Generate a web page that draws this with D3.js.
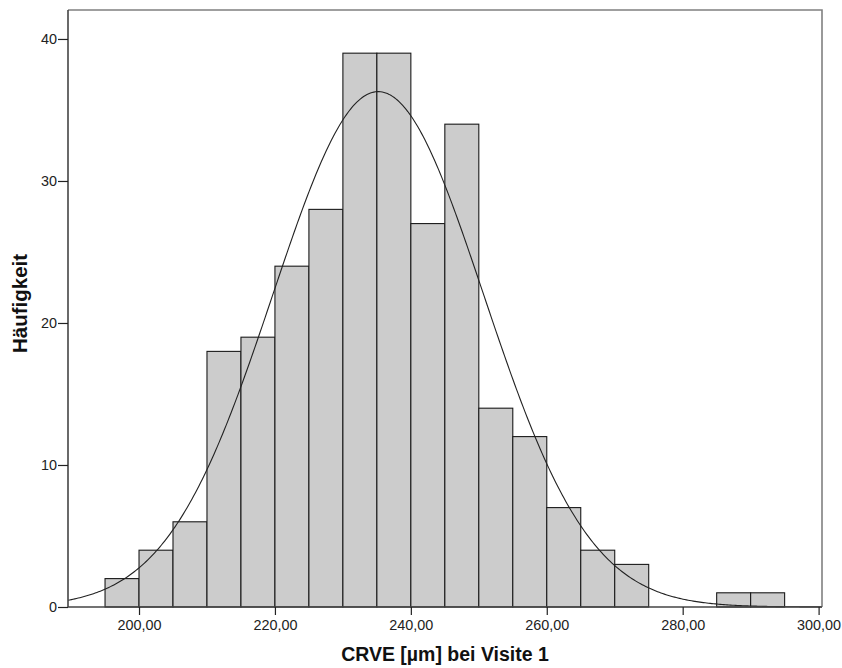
<!DOCTYPE html>
<html>
<head>
<meta charset="utf-8">
<script src="https://cdn.jsdelivr.net/npm/d3@7"></script>
<style>
  html, body { margin: 0; padding: 0; background: #fff; }
  svg { display: block; }
</style>
</head>
<body>
<svg id="chart" width="842" height="668"></svg>
<script>
// Histogram bins of CRVE at visit 1 (bin width 5 µm)
const binStarts = [195, 200, 205, 210, 215, 220, 225, 230, 235, 240, 245, 250, 255, 260, 265, 270, 275, 280, 285, 290];
const binCounts = [2, 4, 6, 18, 19, 24, 28, 39, 39, 27, 34, 14, 12, 7, 4, 3, 0, 0, 1, 1];
const binWidth = 5;

// Fitted normal distribution
const fitMean = 235.2;
const fitSd = 15.5;

const xTicks = [200, 220, 240, 260, 280, 300];
const yTicks = [0, 10, 20, 30, 40];

const xLabel = "CRVE [µm] bei Visite 1";
const yLabel = "Häufigkeit";

const svg = d3.select("#chart");
const plotL = 68, plotR = 822, plotT = 10, plotB = 607;
const font = "Arial, 'Liberation Sans', sans-serif";

const x = d3.scaleLinear().domain([189.55, 300.5]).range([plotL, plotR]);
const y = d3.scaleLinear().domain([0, 42.04]).range([plotB, plotT]);

const total = d3.sum(binCounts);
const bins = binStarts.map((s, i) => ({ x0: s, x1: s + binWidth, n: binCounts[i] }))
  .filter(d => d.n > 0);

// Bars
svg.append("g")
  .selectAll("rect")
  .data(bins)
  .join("rect")
  .attr("x", d => x(d.x0))
  .attr("y", d => y(d.n))
  .attr("width", d => x(d.x1) - x(d.x0))
  .attr("height", d => y(0) - y(d.n))
  .attr("fill", "#cccccc")
  .attr("stroke", "#1a1a1a")
  .attr("stroke-width", 1.1);

// Normal curve scaled to counts
const scale = total * binWidth / (fitSd * Math.sqrt(2 * Math.PI));
const pdf = v => scale * Math.exp(-0.5 * Math.pow((v - fitMean) / fitSd, 2));
const xs = d3.range(x.domain()[0], x.domain()[1], 0.25).concat([x.domain()[1]]);
svg.append("path")
  .datum(xs)
  .attr("fill", "none")
  .attr("stroke", "#222")
  .attr("stroke-width", 1.1)
  .attr("d", d3.line().x(v => x(v)).y(v => y(pdf(v))));

// Frame (top and right)
svg.append("path")
  .attr("d", `M${plotL},${plotT}H${plotR}V${plotB}`)
  .attr("fill", "none")
  .attr("stroke", "#808080")
  .attr("stroke-width", 1.6);

// Axes
const fmtX = d => d3.format(".2f")(d).replace(".", ",");
const xAxis = svg.append("g")
  .attr("transform", `translate(0,${plotB})`)
  .call(d3.axisBottom(x).tickValues(xTicks).tickFormat(fmtX).tickSizeOuter(0).tickSize(8).tickPadding(4.5));
const yAxis = svg.append("g")
  .attr("transform", `translate(${plotL},0)`)
  .call(d3.axisLeft(y).tickValues(yTicks).tickFormat(d3.format("d")).tickSizeOuter(0).tickSize(10).tickPadding(1));

[xAxis, yAxis].forEach(g => {
  g.select(".domain").attr("stroke", "#444").attr("stroke-width", 1.6);
  g.selectAll(".tick line").attr("stroke", "#222").attr("stroke-width", 1.2);
  g.selectAll(".tick text")
    .attr("fill", "#222")
    .style("font-family", font)
    .style("font-size", "14.4px");
});
// Extend the axis lines across the full plot
xAxis.select(".domain").attr("d", `M${plotL},0H${plotR}`);
yAxis.select(".domain").attr("d", `M0,${plotT}V${plotB}`);

// Axis titles
svg.append("text")
  .attr("x", (plotL + plotR) / 2)
  .attr("y", 661)
  .attr("text-anchor", "middle")
  .style("font-family", font)
  .style("font-weight", "bold")
  .style("font-size", "19.5px")
  .attr("fill", "#111")
  .text(xLabel);

svg.append("text")
  .attr("transform", `translate(26.5,303.5) rotate(-90)`)
  .attr("text-anchor", "middle")
  .style("font-family", font)
  .style("font-weight", "bold")
  .style("font-size", "20.5px")
  .attr("fill", "#111")
  .text(yLabel);
</script>
</body>
</html>
